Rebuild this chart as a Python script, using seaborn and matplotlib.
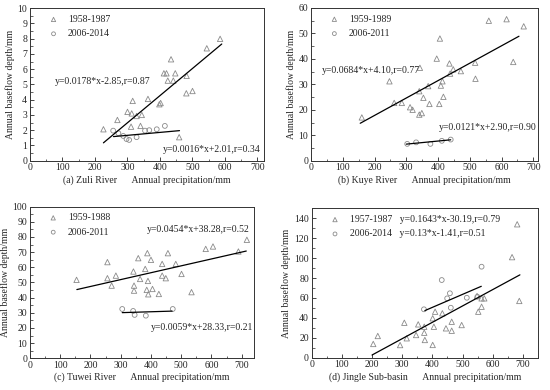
import matplotlib
matplotlib.use("Agg")
import matplotlib.pyplot as plt
import seaborn as sns
import pandas as pd
from matplotlib.ticker import MultipleLocator

sns.set_style("ticks")
plt.rcParams["font.family"] = ["Liberation Serif", "DejaVu Serif"]
plt.rcParams["xtick.direction"] = "in"
plt.rcParams["ytick.direction"] = "in"

# (a) Zuli River
zuliOldX = [226, 269, 300, 311, 313, 316, 328, 344, 340, 363, 398, 402, 412, 420, 424,
            434, 441, 447, 459, 481, 482, 500, 544, 585]
zuliOldY = [2.06, 2.67, 3.2, 2.23, 3.1, 3.92, 2.93, 3.0, 2.28, 4.05, 3.7, 3.78, 5.73, 5.73,
            5.25, 6.65, 5.25, 5.73, 1.54, 4.42, 5.56, 4.57, 7.37, 7.99]
zuliNewX = [256, 272, 287, 297, 305, 328, 354, 367, 390, 415]
zuliNewY = [1.97, 1.8, 1.62, 1.42, 1.36, 1.54, 1.97, 2.0, 2.06, 2.28]
zuliOldFitX = [226, 590]
zuliOldFitY = [1.17, 7.65]
zuliNewFitX = [257, 460]
zuliNewFitY = [1.58, 1.97]

# (b) Kuye River
kuyeOldX = [160, 247, 262, 286, 312, 320, 341, 349, 343, 341, 354, 369, 373, 396, 406,
            404, 409, 414, 417, 436, 438, 448, 472, 518, 517, 560, 616, 637, 670]
kuyeOldY = [17.0, 31.2, 22.7, 22.7, 21.0, 20.0, 18.1, 18.7, 36.5, 27.3, 24.7, 29.3, 22.3,
            40.1, 48.0, 22.3, 29.5, 31.2, 25.1, 38.2, 34.2, 35.9, 35.2, 32.2, 38.5, 55.0,
            55.6, 38.8, 52.8]
kuyeNewX = [303, 331, 376, 412, 440]
kuyeNewY = [6.6, 7.2, 6.6, 7.8, 8.3]
kuyeOldFitX = [155, 655]
kuyeOldFitY = [14.7, 48.9]
kuyeNewFitX = [300, 440]
kuyeNewFitY = [6.5, 8.2]

# (c) Tuwei River
tuweiOldX = [154, 256, 256, 270, 284, 342, 344, 344, 358, 364, 381, 388, 390, 386, 391,
             400, 405, 426, 437, 437, 449, 456, 482, 501, 534, 581, 605, 689, 717]
tuweiOldY = [51.7, 63.4, 52.8, 47.9, 54.5, 57.2, 47.9, 44.6, 66.0, 52.3, 58.9, 69.3, 51.0,
             45.1, 42.2, 64.9, 45.7, 42.4, 62.2, 54.5, 52.8, 69.3, 62.2, 55.6, 43.6, 72.1,
             73.7, 70.4, 78.1]
tuweiNewX = [305, 341, 346, 383, 472]
tuweiNewY = [32.5, 31.2, 28.6, 28.1, 32.5]
tuweiOldFitX = [155, 715]
tuweiOldFitY = [45.3, 70.7]
tuweiNewFitX = [305, 470]
tuweiNewFitY = [30.1, 31.1]

# (d) Jingle Sub-basin
jingleOldX = [204, 219, 293, 307, 315, 346, 353, 373, 375, 373, 401, 401, 409, 405, 433,
              445, 464, 464, 497, 552, 563, 563, 572, 548, 664, 681, 688]
jingleOldY = [13.8, 21.8, 12.7, 35.1, 19.5, 22.8, 33.5, 25.1, 17.8, 31.1, 39.6, 12.8,
              46.2, 31.1, 44.6, 29.5, 36.1, 27.1, 32.8, 46.2, 51.2, 59.6, 59.6, 62.0,
              101, 134, 57]
jingleNewX = [372, 431, 449, 458, 461, 514, 549, 563]
jingleNewY = [48.6, 78, 59.6, 64.7, 50.2, 60.2, 61.2, 91.4]
jingleOldFitX = [200, 690]
jingleOldFitY = [2.7, 83.2]
jingleNewFitX = [375, 562]
jingleNewFitY = [47.3, 71.7]

panels = [
    dict(pos=[0.0545, 0.588, 0.4255, 0.391], xmax=720, ymax=10, ymaj=1, ymin=0.5,
         title="(a) Zuli River", old=(zuliOldX, zuliOldY), new=(zuliNewX, zuliNewY),
         oldFit=(zuliOldFitX, zuliOldFitY), newFit=(zuliNewFitX, zuliNewFitY),
         labels=["1958-1987", "2006-2014"],
         texts=[(78, 5.2, "y=0.0178*x-2.85,r=0.87"), (408, 0.75, "y=0.0016*x+2.01,r=0.34")]),
    dict(pos=[0.5655, 0.588, 0.4127, 0.3915], xmax=715, ymax=60, ymaj=10, ymin=5,
         title="(b) Kuye River", old=(kuyeOldX, kuyeOldY), new=(kuyeNewX, kuyeNewY),
         oldFit=(kuyeOldFitX, kuyeOldFitY), newFit=(kuyeNewFitX, kuyeNewFitY),
         labels=["1959-1989", "2006-2011"],
         texts=[(33, 35.5, "y=0.0684*x+4.10,r=0.77"), (404, 13.2, "y=0.0121*x+2.90,r=0.90")]),
    dict(pos=[0.0545, 0.0813, 0.407, 0.389], xmax=740, ymax=100, ymaj=10, ymin=5,
         title="(c) Tuwei River", old=(tuweiOldX, tuweiOldY), new=(tuweiNewX, tuweiNewY),
         oldFit=(tuweiOldFitX, tuweiOldFitY), newFit=(tuweiNewFitX, tuweiNewFitY),
         labels=["1959-1988", "2006-2011"],
         texts=[(386, 84.6, "y=0.0454*x+38.28,r=0.52"), (398, 20.4, "y=0.0059*x+28.33,r=0.21")]),
    dict(pos=[0.5667, 0.0828, 0.4115, 0.383], xmax=750, ymax=150, ymaj=20, ymin=10,
         title="(d) Jingle Sub-basin", old=(jingleOldX, jingleOldY), new=(jingleNewX, jingleNewY),
         oldFit=(jingleOldFitX, jingleOldFitY), newFit=(jingleNewFitX, jingleNewFitY),
         labels=["1957-1987   y=0.1643*x-30.19,r=0.79", "2006-2014   y=0.13*x-1.41,r=0.51"],
         texts=[]),
]

fs = 7.0
fig = plt.figure(figsize=(5.5, 3.9), dpi=100)
fig.patch.set_facecolor("white")
markerColor = "#8a8a8a"

for p in panels:
    ax = fig.add_axes(p["pos"])
    oldDf = pd.DataFrame({"x": p["old"][0], "y": p["old"][1]})
    newDf = pd.DataFrame({"x": p["new"][0], "y": p["new"][1]})
    sns.scatterplot(data=oldDf, x="x", y="y", marker="^", s=15, facecolors="none",
                    edgecolor=markerColor, linewidth=0.6, ax=ax, label=p["labels"][0])
    sns.scatterplot(data=newDf, x="x", y="y", marker="o", s=12, facecolors="none",
                    edgecolor=markerColor, linewidth=0.6, ax=ax, label=p["labels"][1])
    ax.plot(p["oldFit"][0], p["oldFit"][1], color="black", lw=0.9)
    ax.plot(p["newFit"][0], p["newFit"][1], color="black", lw=0.9)
    for tx, ty, s in p["texts"]:
        ax.text(tx, ty, s, fontsize=fs, va="center")

    ax.set_xlim(0, p["xmax"])
    ax.set_ylim(0, p["ymax"])
    ax.xaxis.set_major_locator(MultipleLocator(100))
    ax.xaxis.set_minor_locator(MultipleLocator(50))
    ax.yaxis.set_major_locator(MultipleLocator(p["ymaj"]))
    ax.yaxis.set_minor_locator(MultipleLocator(p["ymin"]))
    ax.set_xticks([0, 100, 200, 300, 400, 500, 600, 700])
    ax.tick_params(which="major", length=3, width=0.6, labelsize=fs, pad=2)
    ax.tick_params(which="minor", length=1.8, width=0.5)
    for sp in ax.spines.values():
        sp.set_linewidth(0.7)
        sp.set_color("#333333")
    ax.set_xlabel(p["title"] + "      Annual precipitation/mm", fontsize=fs, labelpad=2)
    ax.set_ylabel("Annual baseflow depth/mm", fontsize=fs, labelpad=2)
    leg = ax.legend(loc="upper left", bbox_to_anchor=(0.03, 1.0), frameon=False,
                    fontsize=fs, handletextpad=0.5, labelspacing=0.55, borderaxespad=0.3,
                    markerscale=0.8)
    for h in leg.legend_handles:
        h.set_facecolor("none")
        h.set_edgecolor(markerColor)

fig.savefig("out.png", dpi=100, facecolor="white")
